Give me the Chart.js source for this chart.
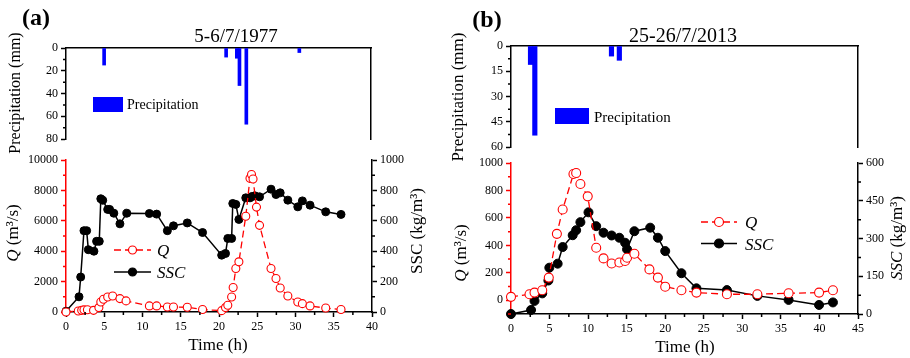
<!DOCTYPE html>
<html>
<head>
<meta charset="utf-8">
<script src="https://cdn.jsdelivr.net/npm/chart.js@4.4.1/dist/chart.umd.min.js"></script>
<style>
  html, body { margin: 0; padding: 0; background: #fff; }
  #wrap { position: relative; width: 910px; height: 358px; }
  #wrap canvas { position: absolute; left: 0; top: 0; width: 910px; height: 358px; }
</style>
</head>
<body>
<div id="wrap">
  <canvas id="rainA" width="910" height="358"></canvas>
  <canvas id="flowA" width="910" height="358"></canvas>
  <canvas id="rainB" width="910" height="358"></canvas>
  <canvas id="flowB" width="910" height="358"></canvas>
</div>
<script>
Chart.defaults.font.family = '"Liberation Serif", "Times New Roman", serif';
Chart.defaults.color = '#000';

const RED = '#ff0000';
const BLUE = '#0000ff';
const BLACK = '#000000';

// ---- panel (a) 5-6/7/1977 ----
const rainTimeA = [5, 21, 22.4, 22.75, 23.65, 30.6];
const rainA = [15, 8, 9, 33, 67, 4];

const qTimeA = [0, 1.6, 2.05, 2.35, 2.8, 3.6, 4.3, 4.55, 4.9, 5.45, 6.1, 7.05, 7.85, 10.9, 11.85, 13.25, 14.05, 15.85, 17.85, 20.35, 20.85, 21.15, 21.65, 21.85, 22.2, 22.6, 23.5, 24.05, 24.25, 24.45, 24.9, 25.3, 26.8, 27.45, 28, 29, 30.3, 30.9, 31.9, 33.95, 35.95];
const qA = [0, 70, 110, 140, 150, 110, 290, 660, 840, 990, 1050, 880, 730, 400, 400, 330, 330, 310, 160, 90, 290, 440, 990, 1610, 2860, 3300, 6300, 8800, 9050, 8750, 6900, 5700, 2860, 2200, 1580, 1050, 660, 550, 400, 260, 160];

const sscTimeA = [0, 1.7, 1.92, 2.35, 2.7, 2.92, 3.65, 4.0, 4.35, 4.55, 4.8, 5.45, 5.7, 6.25, 7.05, 7.95, 10.9, 11.85, 13.25, 14.05, 15.85, 17.85, 20.35, 20.85, 21.15, 21.65, 21.8, 22.2, 22.6, 23.5, 24.05, 24.3, 24.7, 25.3, 26.8, 27.45, 28, 29, 30.3, 30.9, 31.9, 33.95, 35.95];
const sscA = [5, 100, 230, 535, 535, 410, 400, 465, 465, 745, 735, 675, 675, 650, 580, 650, 648, 644, 535, 567, 586, 523, 374, 385, 484, 484, 714, 708, 609, 751, 751, 760, 764, 758, 808, 773, 784, 736, 692, 731, 703, 659, 642];

// ---- panel (b) 25-26/7/2013 ----
const rainTimeB = [2.53, 3.09, 13.03, 14.05];
const rainB = [11, 53, 6, 8.5];

const qTimeB = [0, 2.4, 3.05, 4.05, 4.9, 5.95, 6.7, 8.1, 8.45, 9.0, 9.95, 11.05, 12.0, 13.05, 14.05, 14.8, 15.05, 16.0, 17.95, 19.05, 20.0, 22.1, 24.05, 28.0, 31.95, 36.0, 39.95, 41.75];
const qB = [25, 44, 56, 73, 165, 484, 661, 920, 927, 847, 757, 383, 305, 268, 275, 286, 310, 339, 225, 165, 99, 73, 56, 44, 44, 51, 56, 73];

const sscTimeB = [0, 2.6, 3.05, 4.05, 4.85, 4.97, 6.05, 6.7, 8.0, 8.45, 9.0, 10.05, 11.05, 12.0, 13.05, 14.05, 14.8, 15.05, 16.0, 18.05, 19.05, 20.0, 22.1, 24.05, 28.0, 31.95, 36.0, 39.95, 41.75];
const sscB = [0, 16, 52, 82, 133, 184, 200, 266, 313, 333, 365, 404, 349, 323, 312, 303, 283, 257, 329, 343, 303, 250, 162, 102, 95, 72, 56, 36, 46];

const qTicksB = [0, 200, 400, 600, 800, 1000];

const pts = (xs, ys) => xs.map((x, i) => ({ x: x, y: ys[i] }));

// minor tick step per scale, per canvas
const minorSteps = {
  rainA: { y: 10 },
  flowA: { x: 2.5, q: 1000, ssc: 100 },
  rainB: { y: 7.5 },
  flowB: { x: 2.5, q: 100, ssc: 75 }
};

// titles, axis titles and legends
const decor = {
  rainA: [
    { kind: 'text', x: 36, y: 25, size: 24, bold: true, parts: [['(a)']] },
    { kind: 'text', x: 236, y: 42, size: 19, parts: [['5-6/7/1977']] },
    { kind: 'text', x: 20, y: 93, size: 16, rotate: true, parts: [['Precipitation (mm)']] },
    { kind: 'box', x: 93, y: 97, w: 30, h: 15, color: BLUE },
    { kind: 'text', x: 127, y: 109, size: 14, align: 'left', parts: [['Precipitation']] }
  ],
  flowA: [
    { kind: 'text', x: 18, y: 233, size: 17, rotate: true, parts: [['Q', true], [' (m\u00b3/s)']] },
    { kind: 'text', x: 218, y: 350, size: 17, parts: [['Time (h)']] },
    { kind: 'text', x: 422, y: 231, size: 17, rotate: true, parts: [['SSC (kg/m\u00b3)']] },
    { kind: 'line', x1: 114, x2: 151, mx: 132.5, y: 250, color: RED, width: 1.3, dash: [7, 4], r: 4, fill: '#fff' },
    { kind: 'text', x: 157, y: 256, size: 17, align: 'left', parts: [['Q', true]] },
    { kind: 'line', x1: 114, x2: 151, mx: 132.5, y: 272, color: BLACK, width: 1.5, r: 4, fill: BLACK },
    { kind: 'text', x: 157, y: 278, size: 17, align: 'left', parts: [['SSC', true]] }
  ],
  rainB: [
    { kind: 'text', x: 487, y: 27, size: 24, bold: true, parts: [['(b)']] },
    { kind: 'text', x: 683, y: 42, size: 20, parts: [['25-26/7/2013']] },
    { kind: 'text', x: 463, y: 97, size: 17, rotate: true, parts: [['Precipitation (mm)']] },
    { kind: 'box', x: 555, y: 108, w: 34, h: 16, color: BLUE },
    { kind: 'text', x: 594, y: 122, size: 15, align: 'left', parts: [['Precipitation']] }
  ],
  flowB: [
    { kind: 'text', x: 466, y: 253, size: 17, rotate: true, parts: [['Q', true], [' (m\u00b3/s)']] },
    { kind: 'text', x: 685, y: 352, size: 17, parts: [['Time (h)']] },
    { kind: 'text', x: 902, y: 238, size: 17, rotate: true, parts: [['SSC', true], [' (kg/m\u00b3)']] },
    { kind: 'line', x1: 701, x2: 737, mx: 719, y: 222, color: RED, width: 1.3, dash: [7, 4], r: 4.5, fill: '#fff' },
    { kind: 'text', x: 745, y: 228, size: 17, align: 'left', parts: [['Q', true]] },
    { kind: 'line', x1: 701, x2: 737, mx: 719, y: 243.5, color: BLACK, width: 1.5, r: 4.5, fill: BLACK },
    { kind: 'text', x: 745, y: 249.5, size: 17, align: 'left', parts: [['SSC', true]] }
  ]
};

const minorTickPlugin = {
  id: 'minorTicks',
  afterDraw(chart) {
    const steps = minorSteps[chart.canvas.id] || {};
    const ctx = chart.ctx;
    for (const id of Object.keys(steps)) {
      const s = chart.scales[id];
      const step = steps[id];
      const majors = s.ticks.map(t => t.value);
      ctx.save();
      ctx.strokeStyle = s.options.border.color;
      ctx.lineWidth = 1.5;
      ctx.beginPath();
      for (let v = Math.ceil(s.min / step) * step; v <= s.max + 1e-6; v += step) {
        if (majors.some(m => Math.abs(m - v) < 1e-6)) continue;
        const p = s.getPixelForValue(v);
        if (s.position === 'left') { ctx.moveTo(s.right, p); ctx.lineTo(s.right - 3, p); }
        else if (s.position === 'right') { ctx.moveTo(s.left, p); ctx.lineTo(s.left + 3, p); }
        else { ctx.moveTo(p, s.top); ctx.lineTo(p, s.top + 3); }
      }
      ctx.stroke();
      ctx.restore();
    }
  }
};

const decorPlugin = {
  id: 'decor',
  afterDraw(chart) {
    const ctx = chart.ctx;
    for (const d of (decor[chart.canvas.id] || [])) {
      ctx.save();
      if (d.kind === 'box') {
        ctx.fillStyle = d.color;
        ctx.fillRect(d.x, d.y, d.w, d.h);
      } else if (d.kind === 'line') {
        ctx.strokeStyle = d.color;
        ctx.lineWidth = d.width;
        ctx.setLineDash(d.dash || []);
        ctx.beginPath(); ctx.moveTo(d.x1, d.y); ctx.lineTo(d.x2, d.y); ctx.stroke();
        ctx.setLineDash([]);
        ctx.beginPath(); ctx.arc(d.mx, d.y, d.r, 0, Math.PI * 2);
        ctx.fillStyle = d.fill; ctx.fill();
        ctx.lineWidth = 1.2; ctx.stroke();
      } else {
        ctx.translate(d.x, d.y);
        if (d.rotate) ctx.rotate(-Math.PI / 2);
        ctx.fillStyle = '#000';
        ctx.textBaseline = 'alphabetic';
        ctx.textAlign = 'left';
        const fonts = d.parts.map(p => (p[1] ? 'italic ' : '') + (d.bold ? 'bold ' : '') + d.size + 'px "Liberation Serif"');
        const widths = d.parts.map((p, i) => { ctx.font = fonts[i]; return ctx.measureText(p[0]).width; });
        const total = widths.reduce((a, b) => a + b, 0);
        let x = d.align === 'left' ? 0 : -total / 2;
        d.parts.forEach((p, i) => { ctx.font = fonts[i]; ctx.fillText(p[0], x, 0); x += widths[i]; });
      }
      ctx.restore();
    }
  }
};

Chart.register(minorTickPlugin, decorPlugin);

const tickFont = { size: 12 };
const asText = v => String(v);

function rainChart(id, times, values, area, barPx) {
  return new Chart(document.getElementById(id), {
    type: 'bar',
    data: {
      datasets: [{ data: pts(times, values), backgroundColor: BLUE, borderWidth: 0, barThickness: barPx }]
    },
    options: {
      responsive: false,
      animation: false,
      devicePixelRatio: 1,
      layout: { padding: { left: area.l - 40, top: area.t, right: 910 - area.r, bottom: 358 - area.b } },
      scales: {
        x: {
          type: 'linear', position: 'top', min: 0, max: area.xMax, offset: false,
          grid: { drawOnChartArea: false, drawTicks: false, offset: false },
          border: { color: BLACK, width: 1.5 },
          ticks: { display: false },
          afterFit: s => { s.height = 0; }
        },
        y: {
          type: 'linear', position: 'left', reverse: true, min: 0, max: area.yMax,
          grid: { drawOnChartArea: false, tickLength: 5, tickColor: BLACK, tickWidth: 1.5 },
          border: { color: BLACK, width: 1.5 },
          ticks: { stepSize: area.yStep, font: tickFont, padding: 3, autoSkip: false, callback: asText },
          afterFit: s => { s.width = 40; }
        },
        yr: {
          type: 'linear', position: 'right', min: 0, max: area.yMax,
          grid: { drawOnChartArea: false, drawTicks: false },
          border: { color: BLACK, width: 1.5 },
          ticks: { display: false },
          afterFit: s => { s.width = 0; }
        }
      },
      plugins: { legend: { display: false }, tooltip: { enabled: false } }
    }
  });
}

function flowChart(id, qData, sscData, area) {
  return new Chart(document.getElementById(id), {
    type: 'line',
    data: {
      datasets: [
        {
          label: 'Q', data: qData, yAxisID: 'q', clip: false,
          borderColor: RED, borderWidth: 1.3, borderDash: [7, 4], tension: 0,
          pointRadius: area.r, pointBorderWidth: 1.1, pointBorderColor: RED, pointBackgroundColor: '#fff'
        },
        {
          label: 'SSC', data: sscData, yAxisID: 'ssc', clip: false,
          borderColor: BLACK, borderWidth: 1.5, tension: 0,
          pointRadius: area.r, pointBorderWidth: 1, pointBorderColor: BLACK, pointBackgroundColor: BLACK
        }
      ]
    },
    options: {
      responsive: false,
      animation: false,
      devicePixelRatio: 1,
      layout: { padding: { left: area.l - 40, top: area.t, right: 910 - area.r2 - 40, bottom: 358 - area.b - 30 } },
      scales: {
        x: {
          type: 'linear', position: 'bottom', min: 0, max: area.xMax,
          grid: { drawOnChartArea: false, tickLength: 5, tickColor: BLACK, tickWidth: 1.5 },
          border: { color: BLACK, width: 1.5 },
          ticks: { stepSize: 5, font: tickFont, padding: 3, autoSkip: false, maxRotation: 0, callback: asText },
          afterFit: s => { s.height = 30; }
        },
        q: {
          type: 'linear', position: 'left', min: area.qMin, max: area.qMax,
          grid: { drawOnChartArea: false, tickLength: 5, tickColor: RED, tickWidth: 1.5 },
          border: { color: RED, width: 1.5 },
          ticks: { stepSize: area.qStep, font: tickFont, padding: 3, autoSkip: false, callback: asText },
          afterBuildTicks: area.qTicks ? (s => { s.ticks = area.qTicks.map(v => ({ value: v })); }) : undefined,
          afterFit: s => { s.width = 40; }
        },
        ssc: {
          type: 'linear', position: 'right', min: 0, max: area.sMax,
          grid: { drawOnChartArea: false, tickLength: 5, tickColor: BLACK, tickWidth: 1.5 },
          border: { color: BLACK, width: 1.5 },
          ticks: { stepSize: area.sStep, font: tickFont, padding: 3, autoSkip: false, callback: asText },
          afterFit: s => { s.width = 40; }
        }
      },
      plugins: { legend: { display: false }, tooltip: { enabled: false } }
    }
  });
}

rainChart('rainA', rainTimeA, rainA, { l: 66, t: 48, r: 371, b: 139, xMax: 40, yMax: 80, yStep: 20 }, 3);
flowChart('flowA', pts(qTimeA, qA), pts(sscTimeA, sscA),
  { l: 66, t: 160, r2: 372, b: 312, xMax: 40, qMin: 0, qMax: 10000, qStep: 2000, sMax: 1000, sStep: 200, r: 4 });

rainChart('rainB', rainTimeB, rainB, { l: 511, t: 46, r: 858, b: 147, xMax: 45, yMax: 60, yStep: 15 }, 4.5);
flowChart('flowB', pts(qTimeB, qB), pts(sscTimeB, sscB),
  { l: 511, t: 163, r2: 858, b: 314, xMax: 45, qMin: -100, qMax: 1000, qStep: 200, qTicks: qTicksB, sMax: 600, sStep: 150, r: 4.5 });
</script>
</body>
</html>
